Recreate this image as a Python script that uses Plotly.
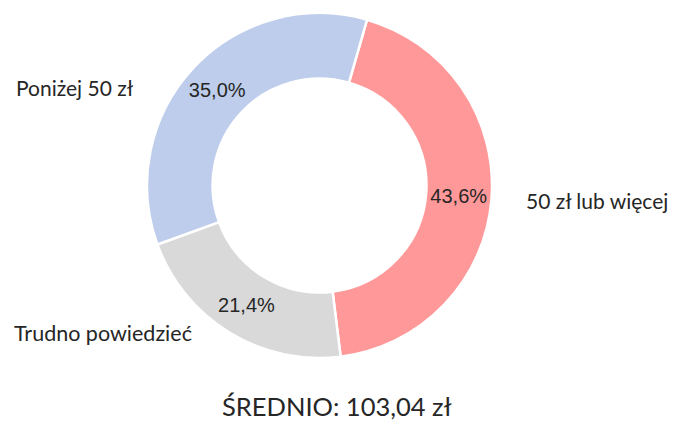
import plotly.graph_objects as go

categories = ["50 zł lub więcej", "Trudno powiedzieć", "Poniżej 50 zł"]
values = [43.6, 21.4, 35.0]
colors = ["#FF9999", "#D9D9D9", "#BDCDEB"]
title_text = "ŚREDNIO: 103,04 zł"

W, H = 675, 421
cx, cy, R = 319.5, 185.5, 172.5

fig = go.Figure(go.Pie(
    labels=categories,
    values=values,
    sort=False,
    direction="clockwise",
    rotation=16,
    hole=0.62,
    marker=dict(colors=colors, line=dict(color="white", width=2.5)),
    texttemplate="%{percent:.1%}",
    textposition="inside",
    insidetextorientation="horizontal",
    textfont=dict(family="Liberation Sans, Arial, sans-serif", size=20, color="#262626"),
    domain=dict(x=[(cx - R) / W, (cx + R) / W], y=[(H - cy - R) / H, (H - cy + R) / H]),
    showlegend=False,
    hoverinfo="label+percent",
))

label_pos = {
    "Poniżej 50 zł": (75, 87),
    "50 zł lub więcej": (597, 200),
    "Trudno powiedzieć": (103, 333),
}
annotations = []
for name in categories:
    x, y = label_pos[name]
    annotations.append(dict(
        text=name, x=x / W, y=1 - y / H, xref="paper", yref="paper",
        showarrow=False, xanchor="center", yanchor="middle",
        font=dict(family="Lato, Carlito, sans-serif", size=21.5 if name == "Trudno powiedzieć" else 21,
                  color="#262626"),
    ))
annotations.append(dict(
    text=title_text, x=337 / W, y=1 - 406 / H, xref="paper", yref="paper",
    showarrow=False, xanchor="center", yanchor="middle",
    font=dict(family="Lato, Carlito, sans-serif", size=25.5, color="#262626"),
))

fig.update_layout(
    width=W, height=H,
    margin=dict(l=0, r=0, t=0, b=0),
    paper_bgcolor="white", plot_bgcolor="white",
    separators=", ",
    annotations=annotations,
)

fig.write_html("out.html", config={"displayModeBar": False},
               post_script="document.body.style.margin='0';")
